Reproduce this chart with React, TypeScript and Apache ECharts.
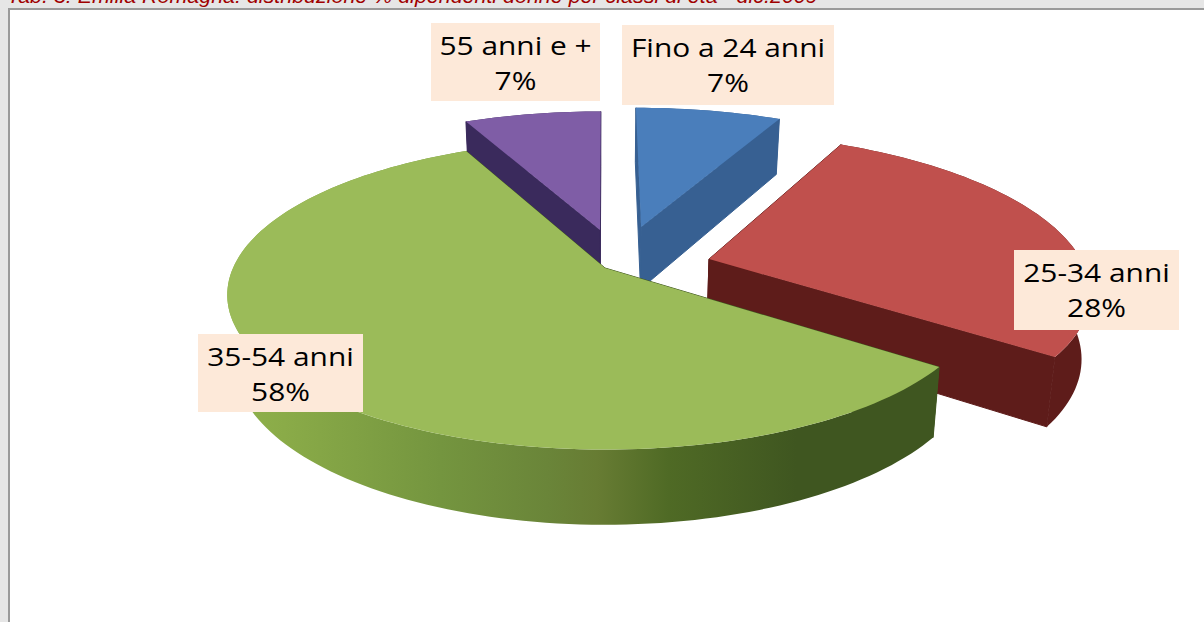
import React, { useEffect, useRef } from "react";
import * as echarts from "echarts";

const categories = ["Fino a 24 anni", "25-34 anni", "35-54 anni", "55 anni e +"];
const shares = [7.49, 27.6, 57.8, 7.11];
const titleText = "Tab. 3: Emilia Romagna: distribuzione % dipendenti donne per classi di età - dic.2009";

// Painting order, back to front
const drawOrder = [3, 0, 1, 2];

// Perspective of the pie plane
const ORIGIN_X = 605;
const ORIGIN_Y = 268;
const RX = 372;
const RY = 150;
const PERSP = 0.174;
const DEPTH = 64.5;

// Per-slice look: explosion offset on the plane, radius factor, colours
const sliceStyle = [
  { u0: 0.102, v0: 0.287, r: 1.025, top: "#4a7ebb", side: "#376092", rim: ["#376092", "#376092"] },
  { u0: 0.2825, v0: 0.06, r: 1.01, top: "#c0504d", side: "#5e1c1a", rim: ["#5e1c1a", "#5e1c1a"] },
  { u0: 0, v0: 0, r: 1, top: "#9bbb59", side: "#3f5620", rim: [] },
  { u0: -0.014, v0: 0.265, r: 1.01, top: "#7f5da6", side: "#3a2a5c", rim: ["#3a2a5c", "#3a2a5c"] },
];

const labelBoxes = [
  { x: 622, y: 25, w: 212, h: 80 },
  { x: 1014, y: 250, w: 165, h: 80 },
  { x: 198, y: 334, w: 165, h: 78 },
  { x: 431, y: 23, w: 169, h: 78 },
];

type P = [number, number];

function project(u: number, v: number): P {
  const w = 1 + PERSP * v;
  return [ORIGIN_X + (RX * u) / w, ORIGIN_Y - (RY * v) / w];
}

function drop(u: number, v: number): P {
  const w = 1 + PERSP * v;
  const [x, y] = project(u, v);
  return [x + (ORIGIN_X - x) * 0.018, y + DEPTH * Math.pow(w, -0.8)];
}

function rimAngles(a0: number, a1: number): number[] {
  const n = Math.max(2, Math.ceil((a1 - a0) / 1.5));
  const out: number[] = [];
  for (let i = 0; i <= n; i++) out.push(a0 + ((a1 - a0) * i) / n);
  return out;
}

const greenRim = () =>
  new echarts.graphic.LinearGradient(0, 0, 1, 0, [
    { offset: 0, color: "#90b24c" },
    { offset: 0.08, color: "#8aab48" },
    { offset: 0.3, color: "#74953f" },
    { offset: 0.45, color: "#6a8539" },
    { offset: 0.52, color: "#677c33" },
    { offset: 0.62, color: "#4f6a25" },
    { offset: 0.8, color: "#3f5620" },
    { offset: 1, color: "#3f5620" },
  ]);

function renderSlice(params: any, api: any) {
  const idx = api.value(0) as number;
  const total = shares.reduce((a, b) => a + b, 0);
  const before = shares.slice(0, idx).reduce((a, b) => a + b, 0);
  const a0 = (before / total) * 360;
  const a1 = ((before + shares[idx]) / total) * 360;
  const s = sliceStyle[idx];
  const pt = (deg: number): P => {
    const t = (deg * Math.PI) / 180;
    return [s.u0 + s.r * Math.sin(t), s.v0 + s.r * Math.cos(t)];
  };
  const angles = rimAngles(a0, a1);
  const rim = angles.map(pt);
  const topRim = rim.map(([u, v]) => project(u, v));
  const lowRim = rim.map(([u, v]) => drop(u, v));
  const apexTop = project(s.u0, s.v0);
  const apexLow = drop(s.u0, s.v0);

  const rimFill =
    idx === 2
      ? greenRim()
      : new echarts.graphic.LinearGradient(0, 0, 1, 0, [
          { offset: 0, color: s.rim[0] },
          { offset: 1, color: s.rim[1] },
        ]);

  const poly = (points: P[], fill: any, stroke: any = "none") => ({
    type: "polygon",
    shape: { points },
    style: { fill, stroke, lineWidth: 1 },
  });

  return {
    type: "group",
    children: [
      poly([apexTop, topRim[0], lowRim[0], apexLow], s.side, s.side),
      poly([apexTop, topRim[topRim.length - 1], lowRim[lowRim.length - 1], apexLow], s.side, s.side),
      poly([...topRim, ...lowRim.slice().reverse()], rimFill),
      poly([apexTop, ...topRim], s.top),
    ],
  };
}

export default function App() {
  const ref = useRef<HTMLDivElement>(null);

  useEffect(() => {
    document.body.style.margin = "0";
    const chart = echarts.init(ref.current!, undefined, { renderer: "svg" });
    const labelEls: any[] = [];
    const textStyle = {
      font: '26px "Open Sans"',
      fill: "#000000",
      textAlign: "center",
      textVerticalAlign: "middle",
    };
    categories.forEach((name, i) => {
      const b = labelBoxes[i];
      labelEls.push({
        type: "rect",
        z: 100,
        shape: { x: b.x, y: b.y, width: b.w, height: b.h },
        style: { fill: "#fde9d9" },
      });
      labelEls.push({
        type: "text",
        z: 101,
        x: b.x + b.w / 2,
        y: b.y + 22,
        scaleX: 1.15,
        style: { ...textStyle, text: name },
      });
      labelEls.push({
        type: "text",
        z: 101,
        x: b.x + b.w / 2,
        y: b.y + 57,
        scaleX: 1.15,
        style: { ...textStyle, text: `${Math.round(shares[i])}%` },
      });
    });

    chart.setOption({
      animation: false,
      backgroundColor: "#e6e6e6",
      graphic: [
        { type: "rect", z: 0, shape: { x: 8, y: 8, width: 1196, height: 614 }, style: { fill: "#9a9a9a" } },
        { type: "rect", z: 0, shape: { x: 10, y: 10, width: 1194, height: 612 }, style: { fill: "#ffffff" } },
        {
          type: "text",
          z: 1,
          x: 7,
          y: 6,
          scaleX: 1.1,
          style: {
            text: titleText,
            font: 'italic 19.5px "Liberation Sans"',
            fill: "#a00000",
            textAlign: "left",
            textVerticalAlign: "bottom",
          },
        },
        ...labelEls,
      ],
      series: [
        {
          type: "custom",
          coordinateSystem: "none",
          z: 5,
          silent: true,
          renderItem: renderSlice,
          data: drawOrder.map((i) => ({ name: categories[i], value: [i, shares[i]] })),
        },
      ],
    });
    return () => chart.dispose();
  }, []);

  return <div ref={ref} style={{ position: "absolute", left: 0, top: 0, width: 1204, height: 622 }} />;
}
